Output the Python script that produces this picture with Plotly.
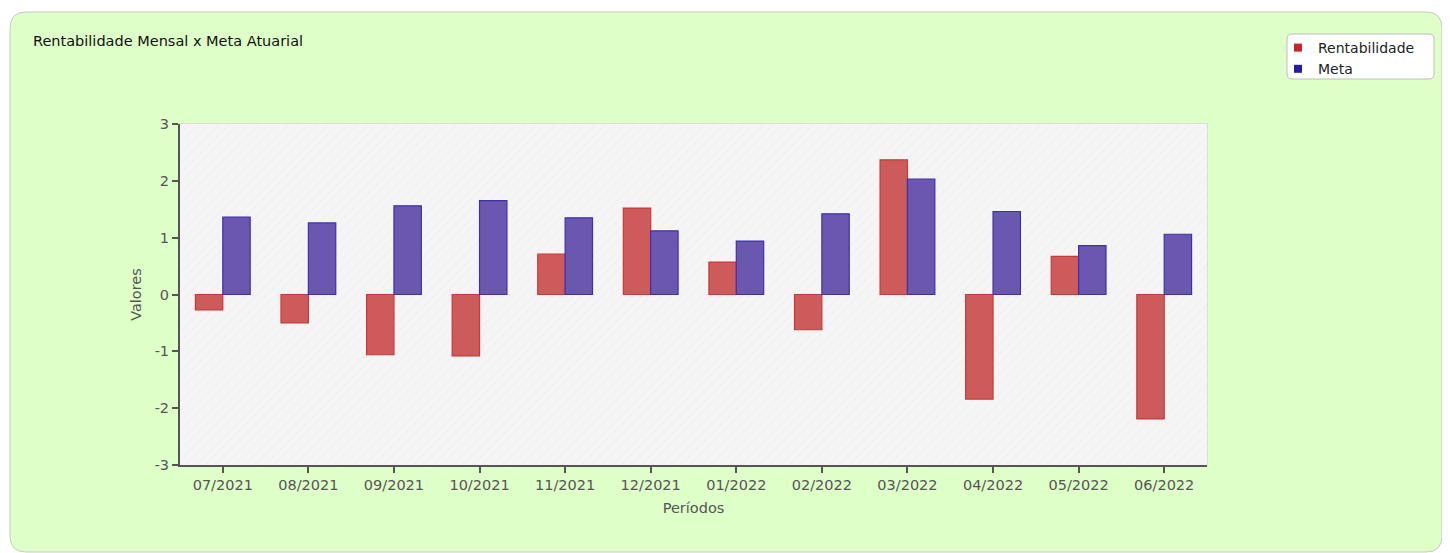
import plotly.graph_objects as go

periodos = ["07/2021", "08/2021", "09/2021", "10/2021", "11/2021", "12/2021",
            "01/2022", "02/2022", "03/2022", "04/2022", "05/2022", "06/2022"]
rentabilidade = [-0.27, -0.50, -1.06, -1.08, 0.71, 1.52, 0.57, -0.62, 2.37, -1.84, 0.67, -2.19]
meta = [1.36, 1.26, 1.56, 1.65, 1.35, 1.12, 0.94, 1.42, 2.03, 1.46, 0.86, 1.06]
y_ticks = [-3, -2, -1, 0, 1, 2, 3]
y_tick_labels = ["-3", "-2", "-1", "0", "1", "2", "3"]

FONT = "DejaVu Sans"
FS = 14.5
OFF = 8  # page body margin in the browser
W, H = 1450 - OFF, 553 - OFF
# plot area in reference pixel coords
PX0, PX1, PY0, PY1 = 180, 1207, 124, 465
L, R, T, B = PX0 - OFF, (W + OFF) - PX1, PY0 - OFF, (H + OFF) - PY1
pw, ph = PX1 - PX0, PY1 - PY0


def px_x(x):
    return (x - PX0) / pw


def px_y(y):
    return (PY1 - y) / ph


def rounded_path(x0, y0, x1, y1, r):
    rx, ry = r / pw, r / ph
    X0, X1 = px_x(x0), px_x(x1)
    Yt, Yb = px_y(y0), px_y(y1)
    return (f"M {X0+rx},{Yt} L {X1-rx},{Yt} Q {X1},{Yt} {X1},{Yt-ry} "
            f"L {X1},{Yb+ry} Q {X1},{Yb} {X1-rx},{Yb} "
            f"L {X0+rx},{Yb} Q {X0},{Yb} {X0},{Yb+ry} "
            f"L {X0},{Yt-ry} Q {X0},{Yt} {X0+rx},{Yt} Z")


fig = go.Figure()
# hatched plot background (on hidden base x axis)
fig.add_trace(go.Bar(
    x=[0.5], y=[6], base=[-3], width=[1], xaxis="x", yaxis="y",
    showlegend=False, hoverinfo="skip",
    marker=dict(color="#f5f5f5", line=dict(width=0),
                pattern=dict(shape="/", size=7, solidity=0.12,
                             fgcolor="#e2e2e2", bgcolor="#f5f5f5")),
))
fig.add_trace(go.Bar(
    x=periodos, y=rentabilidade, name="Rentabilidade", xaxis="x2", yaxis="y",
    showlegend=False,
    marker=dict(color="#cd5b5b", line=dict(color="#c73a3a", width=1.2)),
))
fig.add_trace(go.Bar(
    x=periodos, y=meta, name="Meta", xaxis="x2", yaxis="y",
    showlegend=False,
    marker=dict(color="#6a58b0", line=dict(color="#4030a8", width=1.2)),
))
# legend entries with small square markers
fig.add_trace(go.Scatter(
    x=[None], y=[None], mode="markers", name="Rentabilidade", xaxis="x2", yaxis="y",
    marker=dict(symbol="square", size=8, color="#c42626"),
))
fig.add_trace(go.Scatter(
    x=[None], y=[None], mode="markers", name="Meta", xaxis="x2", yaxis="y",
    marker=dict(symbol="square", size=8, color="#2a1ca0"),
))

shapes = [
    dict(type="path", xref="paper", yref="paper", layer="below",
         path=rounded_path(10, 12, 1442, 552, 16),
         fillcolor="#dfffc8", line=dict(color="#c8c8c8", width=1)),
    dict(type="rect", xref="paper", yref="paper", layer="below",
         x0=0, x1=1, y0=0, y1=1, fillcolor="#f4f4f4",
         line=dict(color="#d6d6d6", width=1.5)),
    dict(type="path", xref="paper", yref="paper", layer="below",
         path=rounded_path(1287, 34, 1434, 79, 5),
         fillcolor="#ffffff", line=dict(color="#bdbdbd", width=1)),
]

axis_font = dict(family=FONT, size=FS, color="#555555")

fig.update_layout(
    width=W, height=H,
    margin=dict(l=L, r=R, t=T, b=B, autoexpand=False),
    paper_bgcolor="#ffffff",
    plot_bgcolor="rgba(0,0,0,0)",
    font=dict(family=FONT, size=FS, color="#555555"),
    barmode="group", bargap=0.36, bargroupgap=0,
    showlegend=True,
    legend=dict(x=px_x(1278), y=px_y(32), xanchor="left", yanchor="top",
                bgcolor="rgba(0,0,0,0)", borderwidth=0,
                font=dict(family=FONT, size=FS - 0.5, color="#222222"),
                itemwidth=30, tracegroupgap=0),
    shapes=shapes,
    annotations=[
        dict(text="Rentabilidade Mensal x Meta Atuarial", xref="paper", yref="paper",
             x=px_x(31), y=px_y(41), xanchor="left", yanchor="middle", showarrow=False,
             font=dict(family=FONT, size=FS, color="#111111")),
    ],
    xaxis=dict(range=[0, 1], visible=False, fixedrange=True),
    xaxis2=dict(
        type="category", overlaying="x", side="bottom",
        showgrid=False, zeroline=False,
        showline=True, linecolor="#555555", linewidth=2,
        ticks="outside", ticklen=6, tickcolor="#555555", tickwidth=2,
        tickfont=axis_font,
        title=dict(text="Períodos", standoff=10, font=axis_font),
    ),
    yaxis=dict(
        range=[-3, 3], tickvals=y_ticks, ticktext=y_tick_labels,
        showgrid=False, zeroline=False,
        showline=True, linecolor="#555555", linewidth=2,
        ticks="outside", ticklen=6, tickcolor="#555555", tickwidth=2,
        tickfont=axis_font,
        title=dict(text="Valores", standoff=10, font=axis_font),
    ),
)

fig.write_html("out.html")
